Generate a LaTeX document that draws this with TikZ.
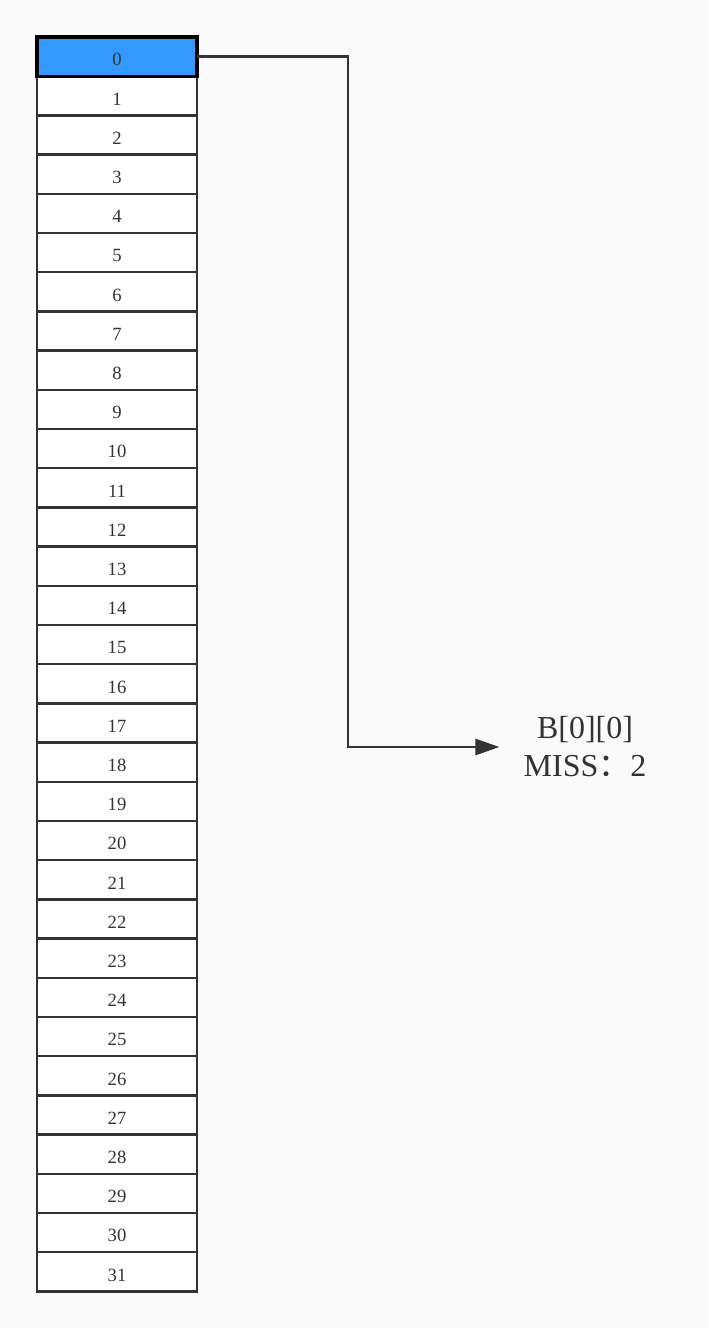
\documentclass[tikz,border=0pt]{standalone}
\usepackage{fontspec}
\setmainfont{Liberation Serif}
\newfontfamily\cjk{Noto Sans CJK SC}
\usepackage{xcolor}
\usetikzlibrary{arrows.meta,positioning}
\definecolor{ink}{HTML}{333333}
\definecolor{hotblue}{HTML}{3399FF}
\definecolor{paper}{HTML}{FAFAFA}

\begin{document}
\begin{tikzpicture}[
    x=0.75pt, y=-0.75pt,
    cell/.style={rectangle, draw=ink, line width=1.8pt, fill=white, minimum width=120pt, minimum height=29.4pt, outer sep=0pt, inner sep=0pt, text height=14pt, text depth=0pt, text=ink, font=\fontsize{14}{16}\selectfont},
    hot/.style={cell, fill=hotblue, draw=black, line width=2.4pt},
    link/.style={-{Triangle[length=18pt, width=12pt]}, draw=ink, line width=2pt},
    tag/.style={align=center, text=ink, inner xsep=18pt, font=\fontsize{24}{28.5}\selectfont}
]
    \fill[paper] (0,0) rectangle (708,1328);
    \useasboundingbox (0,0) rectangle (708,1328);

    % Cache lines
    \foreach \i in {1,...,31} {
        \node[cell] (c\i) at (117, 56.6+39.2*\i) {\i};
    }
    \node[hot] (c0) at (117, 56.6) {0};

    % Miss label
    \node[tag] (lbl) at (585, 747) {B[0][0]\\MISS{\cjk ：}2};

    \draw[link] (c0.east) -- ++(151,0) |- (lbl.west);
\end{tikzpicture}
\end{document}
